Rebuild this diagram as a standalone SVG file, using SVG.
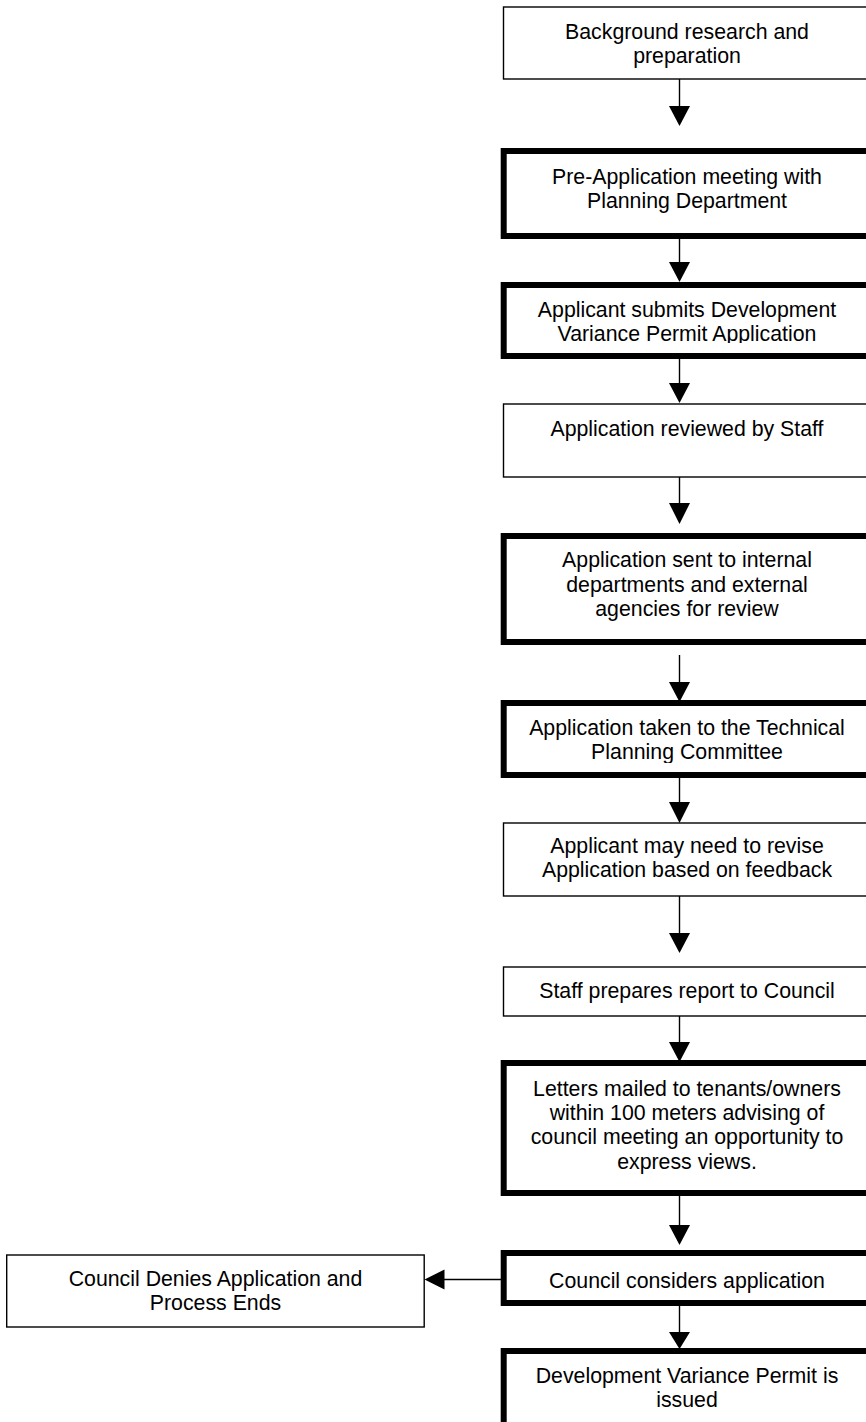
<svg xmlns="http://www.w3.org/2000/svg" width="866" height="1422" viewBox="0 0 866 1422">
<style>
.thin{fill:#fff;stroke:#000;stroke-width:1.4}
.thick{fill:#fff;stroke:#000;stroke-width:6}
text{font-family:"Liberation Sans",Arial,sans-serif;font-size:21.3px;fill:#000;text-anchor:middle}
.ln{stroke:#000;stroke-width:1.4;fill:none}
.ah{fill:#000}
</style>
<defs>
<clipPath id="c3"><rect x="500" y="280" width="370" height="63"/></clipPath>
<clipPath id="c6"><rect x="500" y="700" width="370" height="63"/></clipPath>
</defs>
<rect width="866" height="1422" fill="#fff"/>
<g id="n1"><rect class="thin" x="503.5" y="7" width="368" height="72"/><text x="687" y="39">Background research and</text><text x="687" y="63">preparation</text></g>
<g id="n2"><rect class="thick" x="503.7" y="151" width="368" height="85"/><text x="687" y="184">Pre-Application meeting with</text><text x="687" y="208">Planning Department</text></g>
<g id="n3"><rect class="thick" x="503.7" y="285" width="368" height="71"/><g clip-path="url(#c3)"><text x="687" y="317">Applicant submits Development</text><text x="687" y="341">Variance Permit Application</text></g></g>
<g id="n4"><rect class="thin" x="503.5" y="404" width="368" height="73"/><text x="687" y="436">Application reviewed by Staff</text></g>
<g id="n5"><rect class="thick" x="503.7" y="536" width="368" height="106"/><text x="687" y="567">Application sent to internal</text><text x="687" y="591.5">departments and external</text><text x="687" y="616">agencies for review</text></g>
<g id="n6"><rect class="thick" x="503.7" y="703" width="368" height="72"/><g clip-path="url(#c6)"><text x="687" y="735">Application taken to the Technical</text><text x="687" y="759">Planning Committee</text></g></g>
<g id="n7"><rect class="thin" x="503.5" y="823" width="368" height="73"/><text x="687" y="853">Applicant may need to revise</text><text x="687" y="877">Application based on feedback</text></g>
<g id="n8"><rect class="thin" x="503.5" y="967" width="368" height="49"/><text x="687" y="998">Staff prepares report to Council</text></g>
<g id="n9"><rect class="thick" x="503.7" y="1063" width="368" height="130"/><text x="687" y="1096">Letters mailed to tenants/owners</text><text x="687" y="1120">within 100 meters advising of</text><text x="687" y="1144">council meeting an opportunity to</text><text x="687" y="1168.5">express views.</text></g>
<g id="n10"><rect class="thick" x="503.7" y="1253" width="368" height="50"/><text x="687" y="1288">Council considers application</text></g>
<g id="n11"><rect class="thin" x="6.7" y="1255" width="417.5" height="72"/><text x="215.5" y="1286">Council Denies Application and</text><text x="215.5" y="1309.5">Process Ends</text></g>
<g id="n12"><rect class="thick" x="503.7" y="1351" width="368" height="80"/><text x="687" y="1383">Development Variance Permit is</text><text x="687" y="1407">issued</text></g>
<g id="connectors">
<line class="ln" x1="679.5" y1="79" x2="679.5" y2="107"/><polygon class="ah" points="669,106 690,106 679.5,126"/>
<line class="ln" x1="679.5" y1="239" x2="679.5" y2="263"/><polygon class="ah" points="669,262 690,262 679.5,282"/>
<line class="ln" x1="679.5" y1="359" x2="679.5" y2="384"/><polygon class="ah" points="669,383 690,383 679.5,403"/>
<line class="ln" x1="679.5" y1="477" x2="679.5" y2="504"/><polygon class="ah" points="669,503 690,503 679.5,524"/>
<line class="ln" x1="679.5" y1="655" x2="679.5" y2="683"/><polygon class="ah" points="669,682 690,682 679.5,702"/>
<line class="ln" x1="679.5" y1="778" x2="679.5" y2="803"/><polygon class="ah" points="669,802 690,802 679.5,823"/>
<line class="ln" x1="679.5" y1="896" x2="679.5" y2="934"/><polygon class="ah" points="669,933 690,933 679.5,953"/>
<line class="ln" x1="679.5" y1="1016" x2="679.5" y2="1043"/><polygon class="ah" points="669,1042 690,1042 679.5,1062"/>
<line class="ln" x1="679.5" y1="1196" x2="679.5" y2="1226"/><polygon class="ah" points="669,1225 690,1225 679.5,1245"/>
<line class="ln" x1="679.5" y1="1306" x2="679.5" y2="1333"/><polygon class="ah" points="669,1332 690,1332 679.5,1349"/>
<line class="ln" x1="501" y1="1279.5" x2="443" y2="1279.5"/><polygon class="ah" points="444.5,1269.5 444.5,1289.5 424.5,1279.5"/>
</g>
</svg>
